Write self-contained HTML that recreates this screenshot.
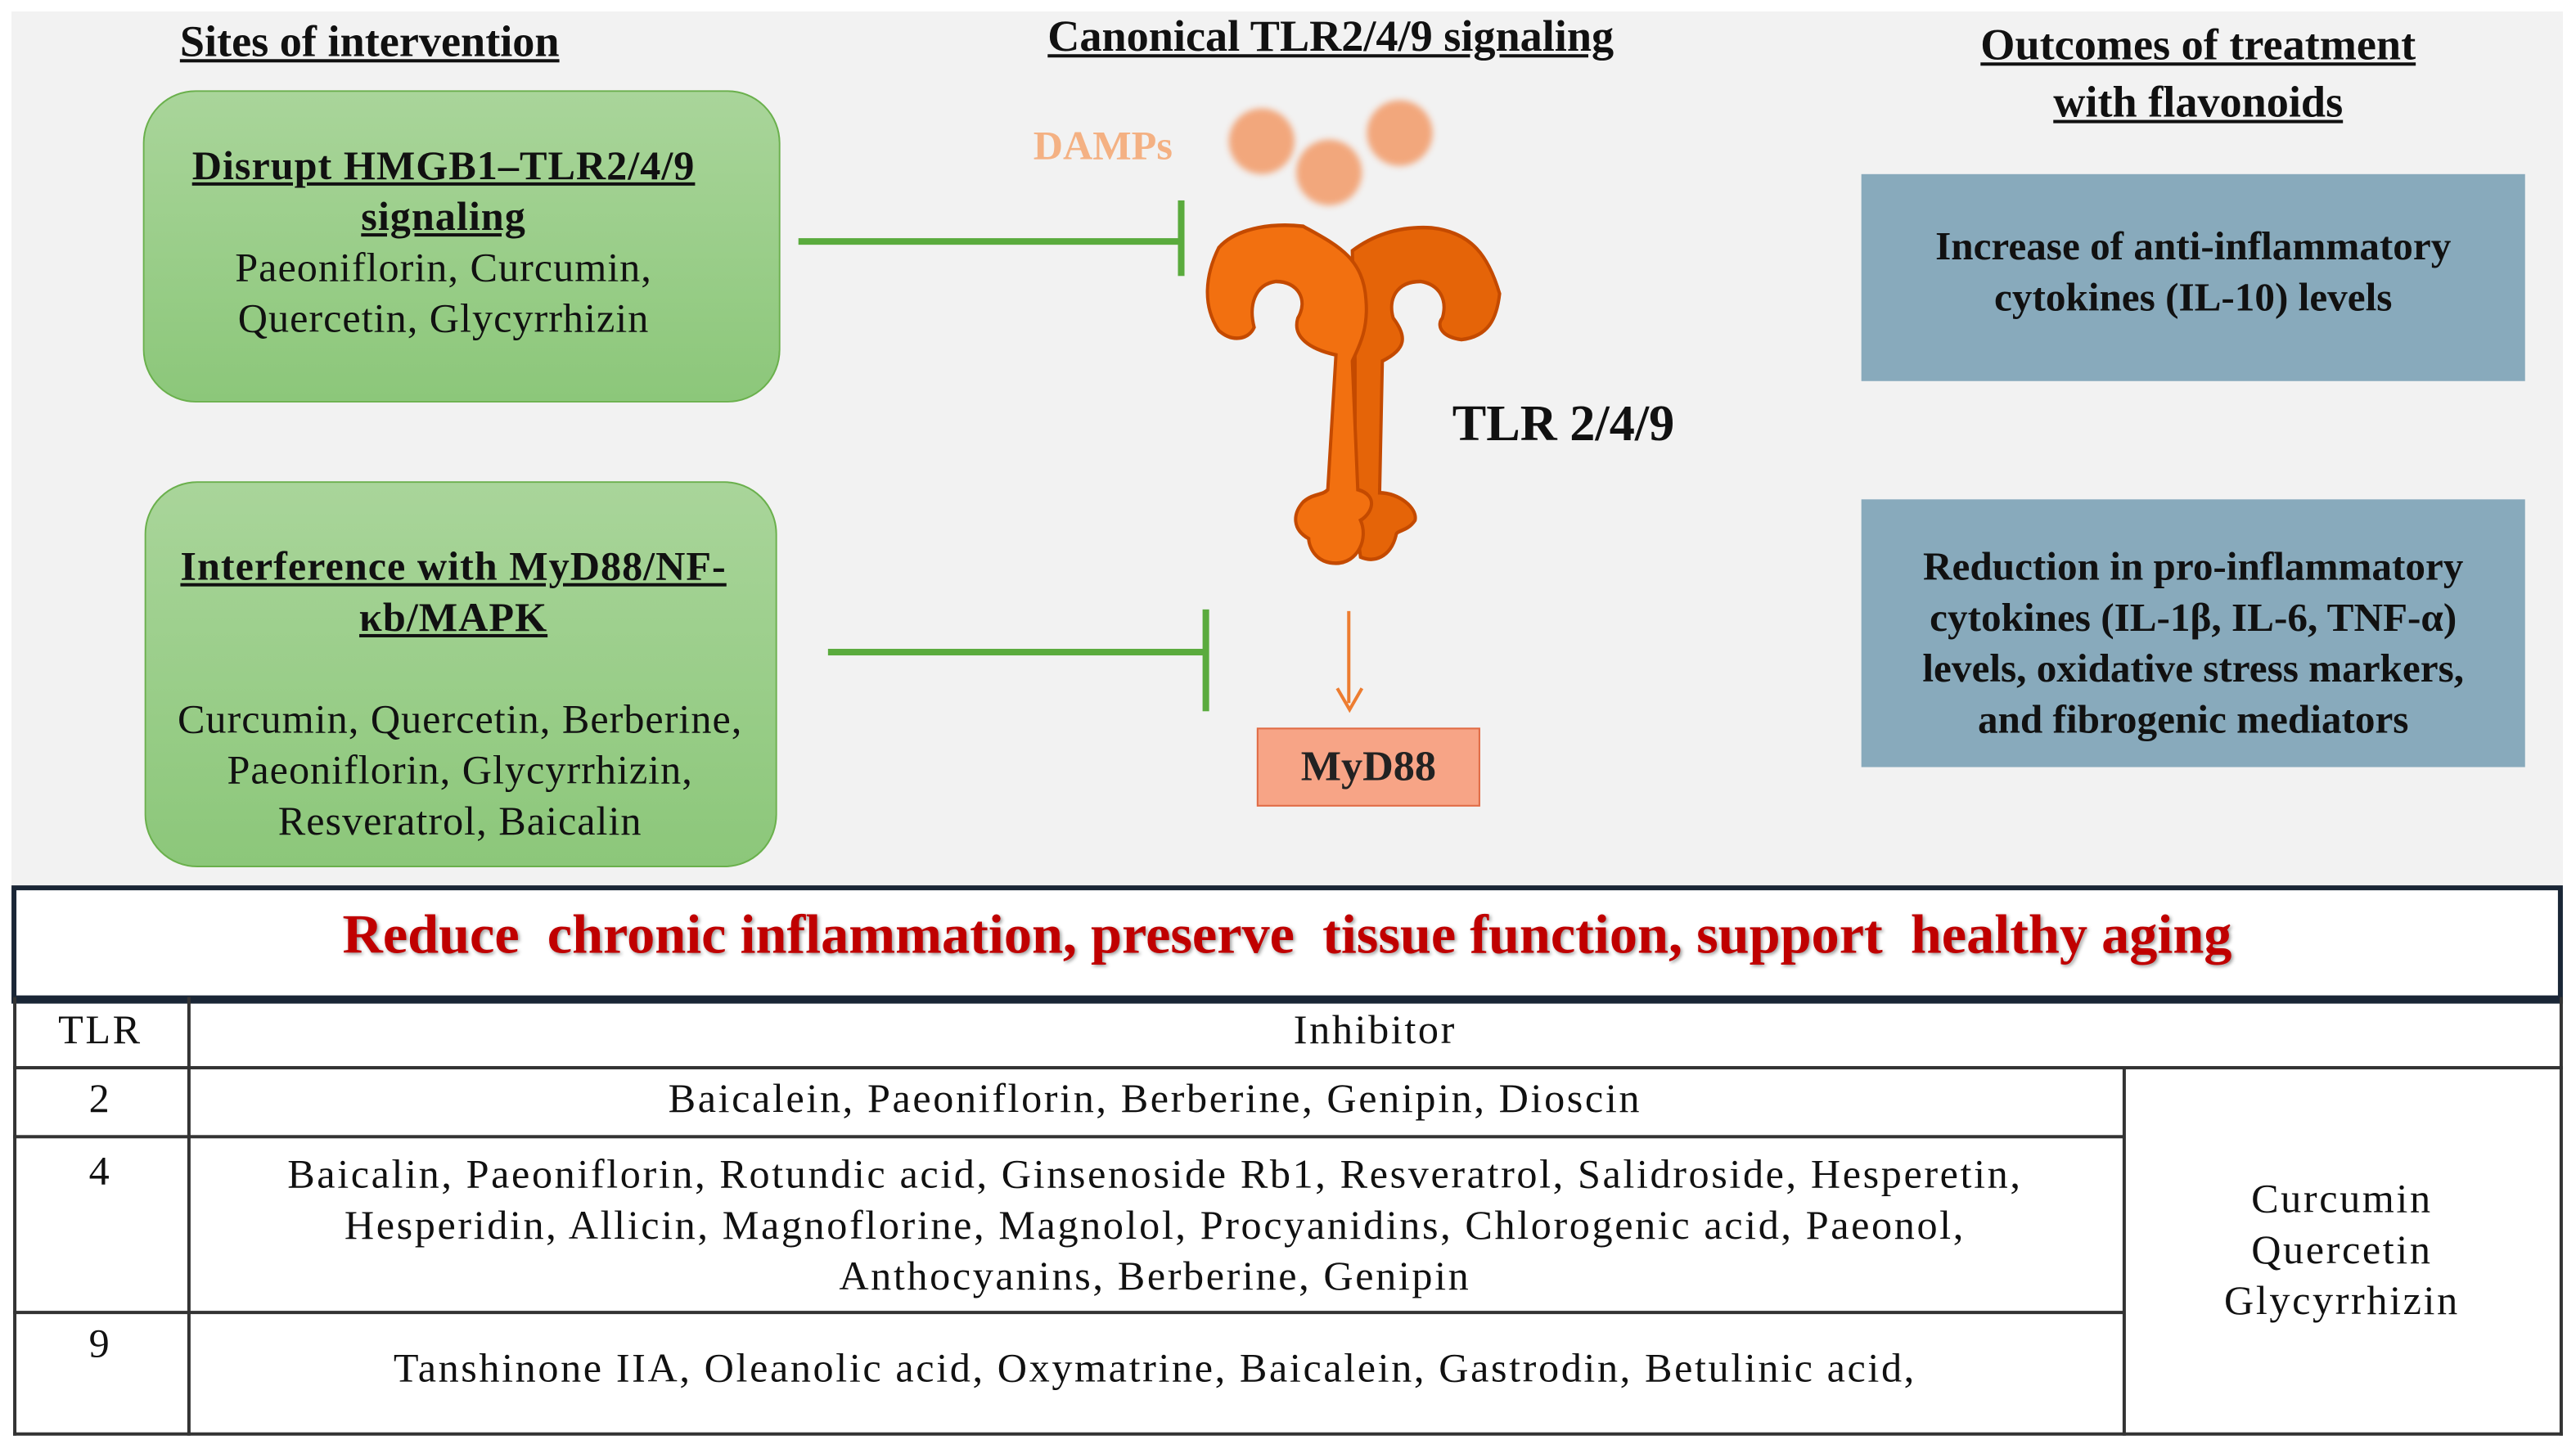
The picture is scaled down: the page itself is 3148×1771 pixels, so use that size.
<!DOCTYPE html>
<html><head><meta charset="utf-8">
<style>
html,body{margin:0;padding:0;background:#fff;width:3148px;height:1770px;overflow:hidden}
#w{position:absolute;left:0;top:0;width:1568px;height:882px;transform:scale(2.00765);transform-origin:0 0;font-family:"Liberation Serif","DejaVu Serif","Times New Roman",serif;color:#111}
.a{position:absolute}
.c{text-align:center}
.h{font-weight:bold;font-size:27px;text-decoration:underline;white-space:nowrap}
.g{position:absolute;border:1.5px solid #6ab04c;border-radius:32px;background:linear-gradient(#a9d59a,#8cc77a)}
.t{font-size:25px;line-height:31px;white-space:nowrap;letter-spacing:0.5px}
.b{position:absolute;background:#88aabc;font-weight:bold;font-size:24.5px;line-height:31px;text-align:center;white-space:nowrap}
.tb{font-size:25px;white-space:nowrap;letter-spacing:1.3px}
.ln{position:absolute;background:#333}
</style></head><body><div id="w">
<div class="a" style="left:7px;top:7px;width:1553px;height:532px;background:#f2f2f2"></div>

<div class="a h c" style="left:25px;top:10px;width:400px">Sites of intervention</div>
<div class="a h c" style="left:560px;top:7px;width:500px">Canonical TLR2/4/9 signaling</div>
<div class="a h c" style="left:1138px;top:10px;width:400px;line-height:35px">Outcomes of treatment<br>with flavonoids</div>

<div class="g" style="left:87px;top:55px;width:386px;height:188px"></div>
<div class="a c t" style="left:77px;top:86px;width:386px"><b><u>Disrupt HMGB1–TLR2/4/9<br>signaling</u></b><br>Paeoniflorin, Curcumin,<br>Quercetin, Glycyrrhizin</div>

<div class="g" style="left:88px;top:293px;width:383px;height:233px"></div>
<div class="a c t" style="left:76px;top:330px;width:400px"><b><u>Interference with MyD88/NF-<br>κb/MAPK</u></b></div>
<div class="a c t" style="left:80px;top:423px;width:400px">Curcumin, Quercetin, Berberine,<br>Paeoniflorin, Glycyrrhizin,<br>Resveratrol, Baicalin</div>

<div class="a" style="left:486px;top:145px;width:233px;height:4px;background:#5aab3d"></div>
<div class="a" style="left:717px;top:122px;width:4px;height:46px;background:#5aab3d"></div>
<div class="a" style="left:504px;top:395px;width:230px;height:4px;background:#5aab3d"></div>
<div class="a" style="left:732px;top:371px;width:4px;height:62px;background:#5aab3d"></div>

<div class="a" style="left:629px;top:76px;font-size:25px;font-weight:bold;color:#f4b183">DAMPs</div>
<div class="a" style="left:748px;top:66px;width:40px;height:40px;border-radius:50%;background:#f2a77c;filter:blur(2px)"></div>
<div class="a" style="left:789px;top:85px;width:40px;height:40px;border-radius:50%;background:#f2a77c;filter:blur(2px)"></div>
<div class="a" style="left:832px;top:61px;width:40px;height:40px;border-radius:50%;background:#f2a77c;filter:blur(2px)"></div>

<svg class="a" style="left:697.3px;top:52.2px" width="249" height="335.6" viewBox="0 0 1500 1800" preserveAspectRatio="none">
<path d="M760 540 C850 480 950 460 1050 465 C1200 480 1260 560 1300 680 C1290 760 1260 820 1160 830 C1080 820 1070 780 1090 760 C1110 700 1080 650 1010 640 C920 640 890 700 910 760 C960 820 960 860 870 900 L860 1330 C930 1330 1000 1380 990 1420 C960 1460 920 1450 920 1470 C900 1540 840 1560 790 1540 L770 1400 L770 900 Z" fill="#e56408" stroke="#c44a00" stroke-width="12"/>
<path d="M700 880 C600 860 540 820 560 760 C600 700 560 640 480 640 C400 650 380 720 400 790 C380 830 320 840 270 800 C210 720 220 620 270 530 C340 460 480 450 580 460 C700 520 800 560 810 700 C820 800 780 860 760 900 L780 1320 C860 1340 830 1400 790 1420 C820 1480 780 1560 700 1560 C620 1560 600 1500 600 1480 C540 1450 540 1400 580 1360 C620 1330 650 1340 670 1320 Z" fill="#f27010" stroke="#c44a00" stroke-width="12"/>
</svg>
<div class="a" style="left:884px;top:240px;font-size:31px;font-weight:bold">TLR 2/4/9</div>

<div class="a" style="left:820px;top:372px;width:2px;height:56px;background:#ed7d31"></div>
<svg class="a" style="left:813px;top:418px" width="17" height="16"><path d="M1 1 L8.5 14 L16 1" fill="none" stroke="#ed7d31" stroke-width="2"/></svg>
<div class="a c" style="left:765px;top:443px;width:134px;height:46px;background:#f7a486;border:1px solid #e06b45;font-size:26px;line-height:46px;font-weight:bold;color:#222">MyD88</div>

<div class="b" style="left:1133px;top:106px;width:404px;height:126px;padding-top:29px;box-sizing:border-box">Increase of anti-inflammatory<br>cytokines (IL-10) levels</div>
<div class="b" style="left:1133px;top:304px;width:404px;height:163px;padding-top:26px;box-sizing:border-box">Reduction in pro-inflammatory<br>cytokines (IL-1β, IL-6, TNF-α)<br>levels, oxidative stress markers,<br>and fibrogenic mediators</div>

<div class="a" style="left:7px;top:539px;width:1547px;height:64px;border:3px solid #1a2636;border-bottom-width:5px;background:#fff"></div>
<div class="a c" style="left:7px;top:551px;width:1553px;font-size:34px;font-weight:bold;color:#c00000;text-shadow:1px 1px 2px #999;white-space:nowrap">Reduce&nbsp; chronic inflammation, preserve&nbsp; tissue function, support&nbsp; healthy aging</div>

<div class="ln" style="left:8px;top:607px;width:2px;height:267px"></div>
<div class="ln" style="left:1558px;top:607px;width:2px;height:267px"></div>
<div class="ln" style="left:114px;top:607px;width:1.5px;height:267px"></div>
<div class="ln" style="left:1292px;top:650px;width:1.5px;height:224px"></div>
<div class="ln" style="left:8px;top:649px;width:1552px;height:1.5px"></div>
<div class="ln" style="left:8px;top:691px;width:1285px;height:1.5px"></div>
<div class="ln" style="left:8px;top:798px;width:1285px;height:1.5px"></div>
<div class="ln" style="left:8px;top:872px;width:1552px;height:2px"></div>

<div class="a c tb" style="left:8px;top:614px;width:106px">TLR</div>
<div class="a c tb" style="left:114px;top:614px;width:1446px">Inhibitor</div>
<div class="a c tb" style="left:8px;top:656px;width:106px">2</div>
<div class="a c tb" style="left:114px;top:656px;width:1178px">Baicalein, Paeoniflorin, Berberine, Genipin, Dioscin</div>
<div class="a c tb" style="left:8px;top:700px;width:106px">4</div>
<div class="a c tb" style="left:114px;top:700px;width:1178px;line-height:31px">Baicalin, Paeoniflorin, Rotundic acid, Ginsenoside Rb1, Resveratrol, Salidroside, Hesperetin,<br>Hesperidin, Allicin, Magnoflorine, Magnolol, Procyanidins, Chlorogenic acid, Paeonol,<br>Anthocyanins, Berberine, Genipin</div>
<div class="a c tb" style="left:8px;top:805px;width:106px">9</div>
<div class="a c tb" style="left:114px;top:820px;width:1178px">Tanshinone IIA, Oleanolic acid, Oxymatrine, Baicalein, Gastrodin, Betulinic acid,</div>
<div class="a c tb" style="left:1293px;top:715px;width:265px;line-height:31px">Curcumin<br>Quercetin<br>Glycyrrhizin</div>
</div></body></html>
